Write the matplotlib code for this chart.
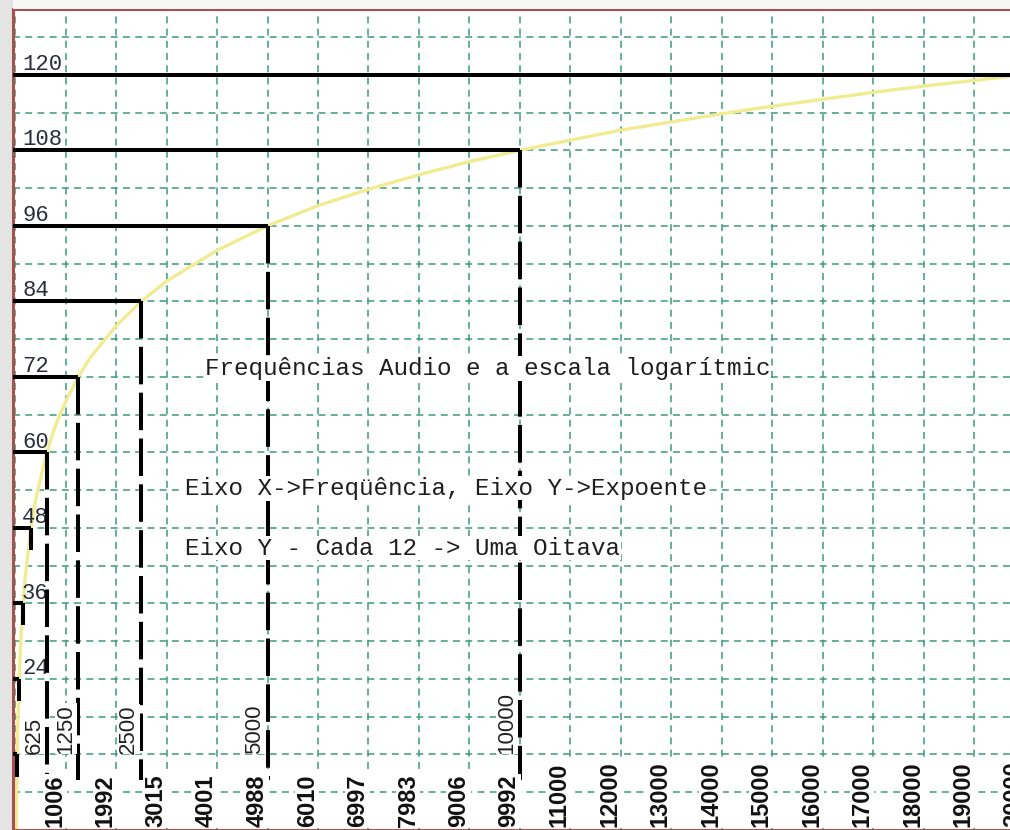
import matplotlib
matplotlib.use('Agg')
import matplotlib.pyplot as plt
import numpy as np
from matplotlib.patches import Rectangle

plt.rcParams['lines.scale_dashes'] = False

# octave levels (exponent) and the frequency where each one is reached
levels = [12, 24, 36, 48, 60, 72, 84, 96, 108, 120]
level_freqs = [39, 78, 156, 312, 625, 1250, 2500, 5000, 10000, 20000]
level_labels = ['', '24', '36', '48', '60', '72', '84', '96', '108', '120']

# labelled markers at the foot of the vertical lines
marker_freqs = [625, 1250, 2500, 5000, 10000]
marker_labels = ['625', '1250', '2500', '5000', '10000']

# x axis labels (one per 1000 Hz grid line)
bottom_labels = ['1006', '1992', '3015', '4001', '4988', '6010', '6997', '7983',
                 '9006', '9992', '11000', '12000', '13000', '14000', '15000',
                 '16000', '17000', '18000', '19000', '20000']

# yellow curve
curve_freq = [20, 30, 40, 50, 80, 100, 150, 200, 300, 400, 625, 800, 1000, 1250,
              1500, 2000, 2500, 3000, 4000, 5000, 6000, 7000, 8000, 9000, 10000,
              11000, 12000, 13000, 14000, 15000, 16000, 17000, 18000, 19000, 20000]
curve_exp = [0.4, 7.4, 12.4, 16.3, 24.4, 28.3, 35.3, 40.3, 47.3, 52.3, 60.0, 64.3,
             68.1, 72.0, 75.2, 80.1, 84.0, 87.2, 92.1, 96.0, 99.2, 101.8, 104.1,
             106.2, 108.0, 109.6, 111.2, 112.5, 113.8, 115.0, 116.1, 117.2, 118.2,
             119.1, 120.0]

texts = ['Frequências Audio e a escala logarítmic',
         'Eixo X->Freqüência, Eixo Y->Expoente',
         'Eixo Y - Cada 12 -> Uma Oitava']

fig = plt.figure(figsize=(10.1, 8.3), dpi=100)
fig.patch.set_facecolor('#e4e4e4')
fig.patches.append(Rectangle((13 / 1010, 821 / 830), 1, 9 / 830, transform=fig.transFigure,
                             facecolor='#f7f7f7', edgecolor='none', zorder=0))

ax = fig.add_axes([13 / 1010, 0, 1041.7 / 1010, 821 / 830])
ax.set_facecolor('white')
x_left = -43.6
ax.set_xlim(x_left, 20600)
ax.set_ylim(0.44, 130.45)

ax.set_xticks(np.arange(0, 20001, 1000))
ax.set_yticks(np.arange(0, 127, 6))
ax.tick_params(length=0, labelbottom=False, labelleft=False)
ax.grid(True, color='#3d9a7c', linewidth=1.1, linestyle=(0, (5, 3.8)), zorder=0.5)
ax.set_axisbelow(True)
for side in ['left', 'top', 'bottom']:
    ax.spines[side].set_color('#a85050')
    ax.spines[side].set_linewidth(2.2)
ax.spines['right'].set_visible(False)

ax.plot(curve_freq, curve_exp, color='#f1eb92', linewidth=2.4, zorder=2)

for lvl, f in zip(levels, level_freqs):
    ax.plot([x_left, f], [lvl, lvl], color='black', linewidth=2.9,
            solid_capstyle='butt', zorder=3)
    if lvl >= 60 and lvl < 120:
        ax.plot([f, f], [lvl, 8], color='black', linewidth=2.9, dashes=(27, 6),
                dash_capstyle='butt', zorder=3)
    elif lvl < 60:
        # only a short stub is visible near the left border
        ax.plot([f, f], [lvl, lvl - 3.5], color='black', linewidth=2.9,
                solid_capstyle='butt', zorder=3)

for lvl, lab in zip(levels, level_labels):
    ax.annotate(lab, xy=(0, lvl), xycoords=('axes fraction', 'data'),
                xytext=(6.5, 3.5), textcoords='offset points', ha='left', va='baseline',
                fontsize=16, family='Liberation Mono', color='#2a2d3a', zorder=2.5)

for f, lab in zip(marker_freqs, marker_labels):
    ax.annotate(lab, xy=(f, 12), xytext=(-1.5, 0.5), textcoords='offset points',
                rotation=90, ha='right', va='bottom', fontsize=16,
                family='Liberation Sans', color='#222222',
                bbox=dict(facecolor='white', edgecolor='none', pad=0.5), zorder=4)

for f, lab in zip(np.arange(1000, 20001, 1000), bottom_labels):
    ax.annotate(lab, xy=(f, 0), xycoords=('data', 'axes fraction'),
                xytext=(0.5, 2), textcoords='offset points', rotation=90,
                ha='right', va='bottom', fontsize=17, fontweight='bold',
                family='Liberation Sans', color='#111111',
                bbox=dict(facecolor='white', edgecolor='none', pad=0.5), zorder=4)

text_pos = [(3761, 73.3), (3368, 54.3), (3368, 44.8)]
for (tx, ty), t in zip(text_pos, texts):
    ax.text(tx, ty, t, ha='left', va='center', fontsize=17.5, family='Liberation Mono',
            color='#1e1e1e', bbox=dict(facecolor='white', edgecolor='none', pad=0.5),
            zorder=5)

fig.savefig('out.png', dpi=100, facecolor=fig.get_facecolor())
